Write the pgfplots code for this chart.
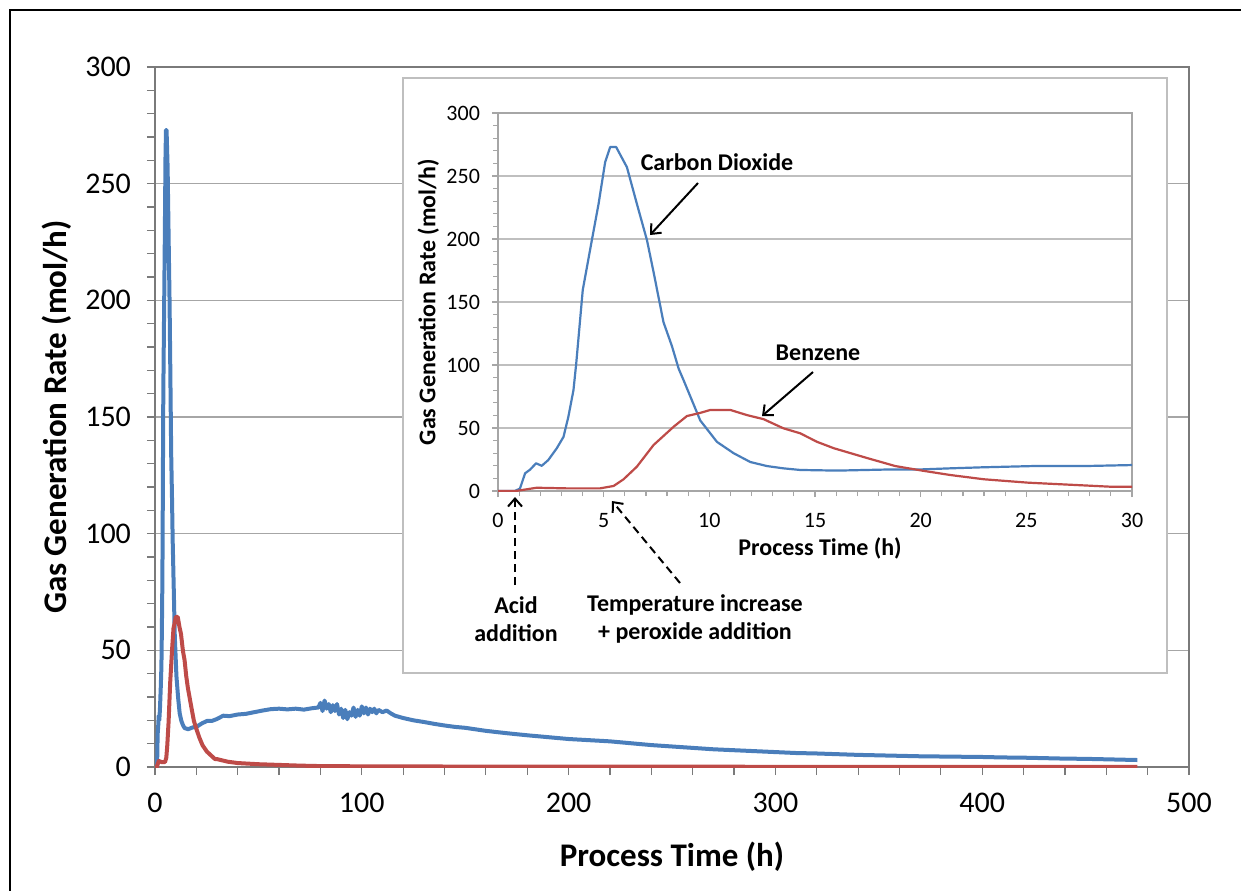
\documentclass[border=0pt]{standalone}
\usepackage{fontspec}
\setmainfont{Carlito}
\usepackage{pgfplots}
\pgfplotsset{compat=1.18}
\usepackage{pgfplotstable}
\usetikzlibrary{arrows.meta}

\definecolor{co2}{HTML}{4A7EBB}
\definecolor{benz}{HTML}{BE4B48}
\definecolor{axisgray}{HTML}{7A7A7A}
\definecolor{gridgray}{HTML}{A6A6A6}
\definecolor{boxgray}{HTML}{BFBFBF}

% carbon dioxide, time (h) vs rate (mol/h)
\pgfplotstableread{
t r
0 0
0.8 0
1.04 2
1.28 14
1.52 17
1.8 22
2.07 20
2.38 24.6
2.78 33.9
3.1 43
3.33 59
3.57 80
3.7 101
4.01 159.5
4.44 199
4.76 228
5.07 261
5.31 273
5.59 273
6.1 257
6.57 228
7.05 199
7.37 173
7.83 134
8.23 115
8.55 97
8.78 88
9.57 56
10.36 39
11.15 30
11.94 23
12.73 19.8
13.5 18
14.3 16.7
16.05 16.2
18.26 17
19.8 17
21.4 18
22.9 18.8
25.3 19.8
27.7 19.8
30 20.6
33 22
36 21.8
40 22.5
44 22.8
48 23.5
52 24.2
56 24.8
60 25
64 24.7
68 25
72 24.6
76 25.2
79 25.5
80 27.5
81 24
82 28.5
83 25
84 27
85 23.5
86 26.5
87 24
88 27
89 22.5
90 25
91 21
92 24.5
93 20.5
94 23.5
95 22
96 25.5
97 21.5
98 24.5
99 22
100 26
101 23
102 25.5
103 22.5
104 25
105 23.5
106 25
107 23
108 24.5
110 23.5
112 24.2
114 23
116 22
120 21
125 20
130 19.3
135 18.5
140 17.8
145 17.2
150 16.8
160 15.5
170 14.5
180 13.6
190 12.8
200 12
210 11.5
220 11
230 10.2
240 9.4
250 8.8
260 8.2
270 7.6
280 7.2
290 6.8
300 6.4
310 6
320 5.8
330 5.5
340 5.2
350 5
360 4.8
370 4.6
380 4.5
390 4.4
400 4.3
410 4.1
420 4
430 3.8
440 3.6
450 3.5
460 3.3
470 3.1
475 3
}\cotwo

% benzene
\pgfplotstableread{
t r
0 0
0.84 0
1.83 2.6
3.25 2.1
4.83 2.1
5.47 4
5.94 9.3
6.57 19.3
7.36 36.5
8.31 51
8.94 59.5
9.57 62
10.04 64.3
11.0 64.3
11.77 60.3
12.57 57
13.5 49.8
14.3 45.8
15.1 39
15.9 33.9
17.5 26
18.8 19.8
20.1 16.1
21.4 12.7
23.0 9.3
25.1 6.6
27.3 4.8
29.0 3.4
30 3.4
35 2.3
40 1.7
50 1.2
60 0.9
70 0.6
80 0.4
100 0.3
150 0.2
200 0.2
300 0.1
475 0.1
}\benzene

\begin{document}
\begin{tikzpicture}
\useasboundingbox (0,0) rectangle (620.5pt,-445pt);
% outer frame
\draw[black, line width=1.2pt] (5pt,-460pt) -- (5pt,-5pt) -- (640pt,-5pt);

\begin{axis}[
  at={(77.5pt,-383.5pt)}, anchor=south west,
  scale only axis, width=517pt, height=350pt,
  xmin=0, xmax=500, ymin=0, ymax=300,
  xtick={0,100,...,500}, ytick={0,50,...,300},
  minor tick num=4,
  tick align=outside, tick pos=left,
  major tick length=4pt, minor tick length=4pt,
  tick style={axisgray, line width=0.6pt},
  axis line style={axisgray, line width=0.8pt},
  ymajorgrids, grid style={gridgray, line width=0.6pt},
  /pgf/number format/assume math mode=true,
  tick label style={font=\fontsize{15}{17}\selectfont},
  xticklabel style={yshift=-5.5pt},
  yticklabel style={xshift=-4.5pt},
  xlabel={Process Time (h)}, ylabel={Gas Generation Rate (mol/h)},
  label style={font=\fontsize{16.5}{19}\selectfont\bfseries},
  xlabel style={at={(axis description cs:0.5,-0.1286)}, anchor=center},
  ylabel style={at={(axis description cs:-0.0948,0.5)}, anchor=center},
]
  \addplot[co2, line width=2pt, line join=round] table[x=t,y=r] {\cotwo};
  \addplot[benz, line width=2pt, line join=round] table[x=t,y=r] {\benzene};
\end{axis}

% inset frame
\filldraw[draw=boxgray, fill=white, line width=1pt] (201.5pt,-39pt) rectangle (583.5pt,-336.5pt);

\begin{axis}[
  at={(249pt,-245.5pt)}, anchor=south west,
  scale only axis, width=317pt, height=189pt,
  xmin=0, xmax=30, ymin=0, ymax=300,
  xtick={0,5,...,30}, ytick={0,50,...,300},
  minor tick num=4,
  tick align=outside, tick pos=left,
  major tick length=3pt, minor tick length=2.5pt,
  tick style={gridgray, line width=0.6pt},
  axis line style={gridgray, line width=0.7pt},
  ymajorgrids, grid style={boxgray, line width=0.6pt},
  /pgf/number format/assume math mode=true,
  tick label style={font=\fontsize{11}{13}\selectfont},
  xticklabel style={yshift=-4.5pt},
  yticklabel style={xshift=-2.5pt},
  xlabel={Process Time (h)}, ylabel={Gas Generation Rate (mol/h)},
  label style={font=\fontsize{12}{14}\selectfont\bfseries},
  xlabel style={at={(axis description cs:0.508,-0.151)}, anchor=center},
  ylabel style={at={(axis description cs:-0.110,0.5)}, anchor=center},
]
  \addplot[co2, line width=1.1pt, line join=round] table[x=t,y=r] {\cotwo};
  \addplot[benz, line width=1.1pt, line join=round] table[x=t,y=r] {\benzene};
\end{axis}

% annotations
\begin{scope}[font=\fontsize{12}{14}\selectfont\bfseries]
  \node at (358.5pt,-81pt) {Carbon Dioxide};
  \node at (409pt,-176.5pt) {Benzene};
  \node[align=center] at (258pt,-309.5pt) {Acid\\addition};
  \node[align=center] at (347.5pt,-309.5pt) {Temperature increase\\+ peroxide addition};
\end{scope}
\begin{scope}[line width=1pt, -{Straight Barb[length=4pt,width=7pt]}]
  \draw (349pt,-91.5pt) -- (325pt,-117.5pt);
  \draw (406.5pt,-186pt) -- (381pt,-208pt);
  \draw[dash pattern=on 4pt off 2.5pt] (257.5pt,-292.5pt) -- (257.5pt,-248.5pt);
  \draw[dash pattern=on 4pt off 2.5pt] (340pt,-291.5pt) -- (306pt,-250.5pt);
\end{scope}
\end{tikzpicture}
\end{document}
